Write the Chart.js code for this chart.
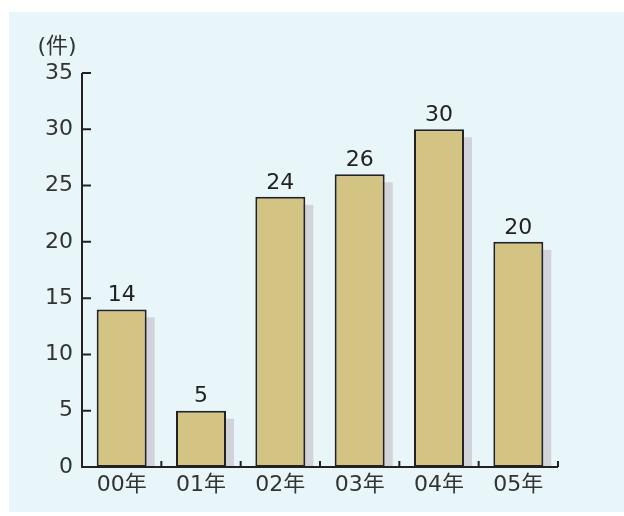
<!DOCTYPE html>
<html>
<head>
<meta charset="utf-8">
<script src="https://cdn.jsdelivr.net/npm/chart.js@4/dist/chart.umd.min.js"></script>
<style>
  html, body { margin: 0; padding: 0; background: #fff; }
  #wrap { width: 624px; height: 516px; }
</style>
</head>
<body>
<div id="wrap"><canvas id="casesChart" width="624" height="516"></canvas></div>
<script>
// Data
const years = ['00年', '01年', '02年', '03年', '04年', '05年'];
const cases = [14, 5, 24, 26, 30, 20];
const unitLabel = '(件)';

const FONT = "'DejaVu Sans', 'Noto Sans CJK JP', sans-serif";
const INK = '#222';

// Light blue panel behind everything
const panelBg = {
    id: 'panelBg',
    beforeDraw(chart) {
        const ctx = chart.ctx;
        ctx.save();
        ctx.fillStyle = '#ffffff';
        ctx.fillRect(0, 0, chart.width, chart.height);
        ctx.fillStyle = '#e9f6f9';
        ctx.fillRect(9, 12, chart.width - 9, 500);
        ctx.restore();
    }
};

// Grey drop shadow to the right of each bar
const barShadow = {
    id: 'barShadow',
    beforeDatasetsDraw(chart) {
        const ctx = chart.ctx;
        const base = chart.scales.y.getPixelForValue(0);
        ctx.save();
        ctx.fillStyle = '#d2d2da';
        chart.getDatasetMeta(0).data.forEach(bar => {
            const w = bar.width;
            ctx.fillRect(bar.x - w / 2 + 8, bar.y + 8, w, base - bar.y - 8);
        });
        ctx.restore();
    }
};

// Axes, inward tick marks, value labels and unit
const decorations = {
    id: 'decorations',
    afterDatasetsDraw(chart) {
        const ctx = chart.ctx;
        const x = chart.scales.x, y = chart.scales.y;
        const left = chart.chartArea.left, right = chart.chartArea.right;
        const top = y.getPixelForValue(35), base = y.getPixelForValue(0);
        ctx.save();
        ctx.strokeStyle = INK;
        ctx.lineWidth = 2;
        ctx.beginPath();
        ctx.moveTo(left, top);
        ctx.lineTo(left, base);
        ctx.lineTo(right, base);
        // y ticks point into the plot
        y.ticks.forEach(t => {
            const py = y.getPixelForValue(t.value);
            if (t.value === 0) return;
            ctx.moveTo(left, py);
            ctx.lineTo(left + 9, py);
        });
        // x ticks between categories point up
        const step = (right - left) / years.length;
        for (let i = 1; i <= years.length; i++) {
            const px = left + step * i;
            ctx.moveTo(px, base);
            ctx.lineTo(px, base - 6);
        }
        ctx.stroke();

        ctx.fillStyle = INK;
        ctx.font = '22px ' + FONT;
        ctx.textAlign = 'center';
        ctx.textBaseline = 'bottom';
        chart.getDatasetMeta(0).data.forEach((bar, i) => {
            ctx.fillText(String(cases[i]), bar.x, bar.y - 3);
        });

        ctx.fillStyle = '#333';
        ctx.textBaseline = 'middle';
        ctx.fillText(unitLabel, 57, 47);
        ctx.restore();
    }
};

const ctx = document.getElementById('casesChart').getContext('2d');
const casesChart = new Chart(ctx, {
    type: 'bar',
    data: {
        labels: years,
        datasets: [{
            data: cases,
            backgroundColor: '#d4c483',
            borderColor: '#222',
            borderWidth: 2,
            borderSkipped: false,
            categoryPercentage: 1,
            barPercentage: 0.63
        }]
    },
    options: {
        responsive: false,
        animation: false,
        layout: { padding: { left: 0, top: 73, right: 66, bottom: 0 } },
        plugins: {
            legend: { display: false },
            tooltip: { enabled: false }
        },
        scales: {
            x: {
                grid: { display: false, drawTicks: false },
                border: { display: false },
                ticks: { color: '#333', font: { size: 22, family: FONT }, padding: 5 },
                afterFit: (axis) => { axis.height = 49; }
            },
            y: {
                min: 0,
                max: 35,
                grid: { display: false, drawTicks: false },
                border: { display: false },
                ticks: { stepSize: 5, color: '#333', font: { size: 22, family: FONT }, padding: 9 },
                afterFit: (axis) => { axis.width = 82; }
            }
        }
    },
    plugins: [panelBg, barShadow, decorations]
});
</script>
</body>
</html>
